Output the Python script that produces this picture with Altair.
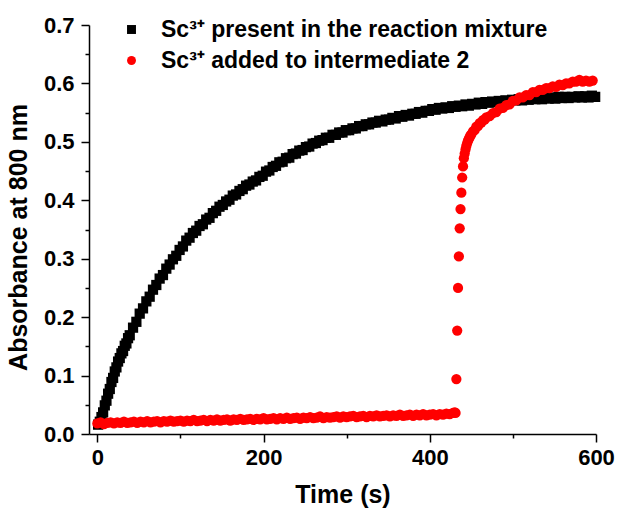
import altair as alt
import pandas as pd

black_label = "Sc³⁺ present in the reaction mixture"
red_label = "Sc³⁺ added to intermediate 2"

# ---- black series: Sc3+ present in the reaction mixture ----
black_t = list(range(1, 41, 2)) + list(range(43, 600, 4))
black_v = [
    0.016, 0.021, 0.029, 0.037, 0.049, 0.057, 0.069, 0.077, 0.089, 0.096,
    0.107, 0.114, 0.124, 0.130, 0.138, 0.142, 0.151, 0.155, 0.164, 0.169,
    # 43 .. 599 step 4
    0.182, 0.192, 0.206, 0.215, 0.227, 0.235, 0.247, 0.255, 0.266, 0.272,
    0.283, 0.290, 0.299, 0.305, 0.315, 0.321, 0.331, 0.336, 0.344, 0.348,
    0.356, 0.359, 0.367, 0.370, 0.378, 0.382, 0.389, 0.392, 0.398, 0.401,
    0.408, 0.410, 0.416, 0.419, 0.425, 0.427, 0.432, 0.434, 0.440, 0.442,
    0.449, 0.451, 0.457, 0.459, 0.465, 0.466, 0.472, 0.473, 0.479, 0.480,
    0.485, 0.486, 0.491, 0.492, 0.497, 0.498, 0.502, 0.503, 0.507, 0.507,
    0.512, 0.512, 0.516, 0.516, 0.520, 0.520, 0.523, 0.523, 0.527, 0.527,
    0.530, 0.530, 0.533, 0.533, 0.536, 0.535, 0.538, 0.538, 0.541, 0.540,
    0.544, 0.543, 0.546, 0.545, 0.548, 0.548, 0.551, 0.550, 0.553, 0.553,
    0.556, 0.555, 0.558, 0.557, 0.559, 0.558, 0.561, 0.560, 0.562, 0.561,
    0.564, 0.562, 0.565, 0.564, 0.567, 0.565, 0.568, 0.567, 0.569, 0.568,
    0.570, 0.569, 0.571, 0.570, 0.572, 0.571, 0.573, 0.571, 0.574, 0.572,
    0.574, 0.573, 0.575, 0.573, 0.576, 0.574, 0.576, 0.574, 0.577, 0.575,
    0.577, 0.575, 0.577, 0.576, 0.578, 0.576, 0.578, 0.576, 0.579, 0.577,
]

# ---- red series: Sc3+ added to intermediate 2 ----
red_flat_t = list(range(0, 429, 4)) + [430, 431]
red_flat_v = [
    0.018, 0.020, 0.017, 0.019, 0.020, 0.018, 0.020, 0.019, 0.021, 0.019,
    0.020, 0.021, 0.019, 0.021, 0.020, 0.022, 0.020, 0.021, 0.022, 0.020,
    0.022, 0.021, 0.023, 0.021, 0.022, 0.023, 0.021, 0.023, 0.022, 0.024,
    0.022, 0.023, 0.024, 0.022, 0.024, 0.023, 0.025, 0.023, 0.024, 0.025,
    0.023, 0.025, 0.024, 0.026, 0.024, 0.025, 0.026, 0.024, 0.026, 0.025,
    0.027, 0.025, 0.026, 0.027, 0.025, 0.027, 0.026, 0.028, 0.026, 0.027,
    0.028, 0.026, 0.028, 0.027, 0.029, 0.027, 0.028, 0.030, 0.027, 0.029,
    0.028, 0.029, 0.030, 0.028, 0.030, 0.029, 0.030, 0.031, 0.029, 0.030,
    0.031, 0.029, 0.031, 0.030, 0.032, 0.030, 0.031, 0.032, 0.030, 0.032,
    0.031, 0.033, 0.031, 0.032, 0.033, 0.031, 0.033, 0.032, 0.034, 0.032,
    0.033, 0.034, 0.032, 0.034, 0.033, 0.035, 0.034, 0.036,
    0.037, 0.036,
]
red_rise_t = [
    432, 433, 434, 435, 436, 437, 438, 439, 440, 441,
    442, 443, 444, 445, 446, 447, 448, 449, 450,
    452, 454, 456, 458, 460, 462, 464, 466, 468,
    472, 476, 480, 484, 488, 492, 496, 500, 504, 508,
    512, 516, 520, 524, 528, 532, 536, 540, 544, 548,
    552, 556, 560, 564, 568, 572, 576, 580, 584, 588,
    592, 596,
]
red_rise_v = [
    0.094, 0.177, 0.250, 0.304, 0.352, 0.385, 0.413, 0.439, 0.458, 0.472,
    0.480, 0.487, 0.493, 0.498, 0.502, 0.505, 0.508, 0.511, 0.513,
    0.518, 0.520, 0.526, 0.527, 0.532, 0.533, 0.537, 0.538, 0.542,
    0.544, 0.549, 0.551, 0.557, 0.558, 0.563, 0.564, 0.570, 0.571, 0.576,
    0.576, 0.580, 0.580, 0.585, 0.585, 0.589, 0.589, 0.592, 0.592, 0.595,
    0.594, 0.598, 0.597, 0.600, 0.600, 0.603, 0.603, 0.606, 0.603, 0.605,
    0.603, 0.605,
]

assert len(black_t) == len(black_v)
assert len(red_flat_t) == len(red_flat_v)
assert len(red_rise_t) == len(red_rise_v)

x_ticks = [0, 100, 200, 300, 400, 500, 600]
y_ticks = [0.0, 0.05, 0.1, 0.15, 0.2, 0.25, 0.3, 0.35, 0.4, 0.45, 0.5, 0.55, 0.6, 0.65, 0.7]

rows = []
for t, v in zip(black_t, black_v):
    rows.append({"t": t, "A": v, "series": black_label})
for t, v in zip(red_flat_t + red_rise_t, red_flat_v + red_rise_v):
    rows.append({"t": t, "A": v, "series": red_label})
df = pd.DataFrame(rows)

FONT = "Liberation Sans"

major_x = "datum.value % 200 == 0"
major_y = "abs(datum.value * 10 - round(datum.value * 10)) < 0.000001"

x_axis = alt.Axis(
    values=x_ticks,
    title="Time (s)",
    labelExpr=f"{major_x} ? datum.label : ''",
    tickSize={"condition": {"test": major_x, "value": 8}, "value": 4},
    labelFlush=False,
    labelOverlap=False,
    grid=False,
    labelPadding=5,
    titlePadding=14,
)
y_axis = alt.Axis(
    values=y_ticks,
    title="Absorbance at 800 nm",
    labelExpr=f"{major_y} ? format(datum.value, '.1f') : ''",
    tickSize={"condition": {"test": major_y, "value": 8}, "value": 4},
    labelFlush=False,
    labelOverlap=False,
    grid=False,
    labelPadding=7,
    titlePadding=12,
    titleY=212,
)

chart = (
    alt.Chart(df)
    .mark_point(filled=True, opacity=1, size=105, strokeWidth=0)
    .encode(
        x=alt.X("t:Q", scale=alt.Scale(domain=[-10, 600], nice=False, zero=False), axis=x_axis),
        y=alt.Y("A:Q", scale=alt.Scale(domain=[0, 0.7], nice=False), axis=y_axis),
        color=alt.Color(
            "series:N",
            scale=alt.Scale(domain=[black_label, red_label], range=["#000000", "#ff0000"]),
            legend=alt.Legend(
                title=None,
                orient="none",
                legendX=31,
                legendY=-7,
                padding=0,
                labelFont=FONT,
                labelFontWeight="bold",
                labelFontSize=23,
                labelColor="#000000",
                labelLimit=600,
                labelOffset=18,
                symbolSize=80,
                symbolStrokeWidth=0,
                rowPadding=7,
            ),
        ),
        shape=alt.Shape(
            "series:N",
            scale=alt.Scale(domain=[black_label, red_label], range=["square", "circle"]),
            legend=None,
        ),
    )
    .properties(
        width=507,
        height=409,
        padding={"left": 89, "top": 25, "right": 21, "bottom": 81},
        autosize=alt.AutoSizeParams(type="none"),
    )
    .configure_view(stroke=None)
    .configure_axis(
        labelFont=FONT,
        labelFontWeight="bold",
        labelFontSize=22,
        labelColor="#000000",
        titleFont=FONT,
        titleFontWeight="bold",
        titleFontSize=25,
        titleColor="#000000",
        domainColor="#000000",
        domainWidth=1.5,
        tickColor="#000000",
        tickWidth=1.5,
    )
)

chart.save("out.html", embed_options={"renderer": "svg", "actions": False})
